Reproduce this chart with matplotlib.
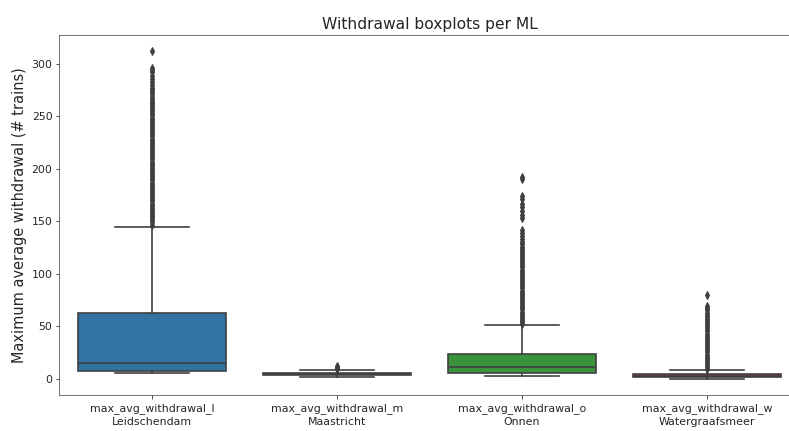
import numpy as np
import matplotlib
matplotlib.use("Agg")
import matplotlib.pyplot as plt

# categories and box summary values
labels = ["max_avg_withdrawal_l\nLeidschendam", "max_avg_withdrawal_m\nMaastricht",
          "max_avg_withdrawal_o\nOnnen", "max_avg_withdrawal_w\nWatergraafsmeer"]
whislo = [5.5, 2, 2.5, 0]
q1 = [7.5, 3.5, 5.5, 2]
med = [15, 4, 11, 3]
q3 = [63, 5, 23.5, 4]
whishi = [145, 8, 51, 8]

# outliers (approximate, read from the dense flier columns)
fliers_l = [147, 149, 151, 153, 155, 157, 159, 161, 163, 165, 167, 169, 171, 173, 175,
            177, 179, 181, 183, 185, 187, 189, 191, 193, 195, 197, 199, 201, 203, 205,
            207, 209, 211, 213, 215, 217, 219, 221, 223, 225, 227, 229, 231, 233, 235,
            237, 239, 241, 243, 245, 247, 249, 251, 253, 255, 257, 259, 261, 263, 265,
            267, 269, 271, 273, 275, 277, 280, 283, 286, 289, 292, 294, 296, 312]
fliers_m = [9, 10, 11, 12]
fliers_o = [52, 54, 56, 58, 60, 62, 64, 66, 68, 70, 72, 74, 76, 78, 80, 82, 84, 86, 88,
            90, 92, 94, 96, 98, 100, 102, 104, 106, 108, 110, 112, 114, 116, 118, 120,
            122, 124, 126, 128, 130, 133, 136, 139, 142, 153, 156, 160, 164, 167, 171,
            174, 190, 192]
fliers_w = [9, 11, 13, 15, 17, 19, 21, 23, 25, 27, 29, 31, 33, 35, 37, 39, 41, 43, 45,
            47, 49, 51, 53, 55, 57, 59, 61, 63, 65, 67, 69, 80]
fliers = [fliers_l, fliers_m, fliers_o, fliers_w]

colors = ["#3274a1", "#e1812c", "#3a923a", "#c03d3e"]
gray = "#3f3f3f"
lw = 1.65

stats = []
for i in range(len(labels)):
    stats.append(dict(whislo=whislo[i], q1=q1[i], med=med[i], q3=q3[i],
                      whishi=whishi[i], fliers=fliers[i]))

fig = plt.figure(figsize=(789 / 72, 431 / 72), dpi=72)
ax = fig.add_axes([0.0754, 0.0835, 0.938, 0.835])

bp = ax.bxp(stats, positions=range(4), widths=0.8, patch_artist=True,
            boxprops=dict(edgecolor=gray, linewidth=lw),
            medianprops=dict(color=gray, linewidth=lw),
            whiskerprops=dict(color=gray, linewidth=lw),
            capprops=dict(color=gray, linewidth=lw),
            flierprops=dict(marker="d", markerfacecolor=gray, markeredgecolor=gray,
                            markersize=5.5, linestyle="none"))
for patch, c in zip(bp["boxes"], colors):
    patch.set_facecolor(c)

ax.set_xlim(-0.5, 3.5)
ax.set_ylim(-15.6, 327.6)
ax.set_xticks(range(4))
ax.set_xticklabels(labels, linespacing=1.4)
ax.tick_params(labelsize=11, colors="#262626", labelcolor="#262626")
ax.tick_params(axis="x", pad=4.5)
for s in ax.spines.values():
    s.set_color("#555555")
ax.set_ylabel("Maximum average withdrawal (# trains)", fontsize=14.5, color="#262626")
ax.set_title("Withdrawal boxplots per ML", fontsize=15.5, color="#262626")

fig.savefig("out.png", dpi=72)
